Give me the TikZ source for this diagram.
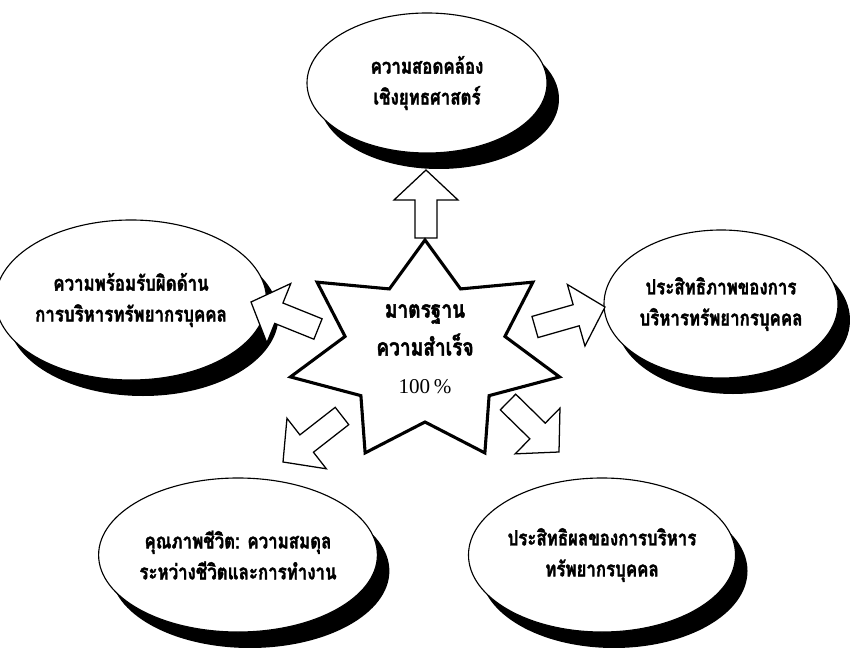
\documentclass[tikz,border=0pt]{standalone}
\usepackage{fontspec}
\setmainfont{Liberation Serif}
\newfontfamily\thaifont[Script=Thai, FakeStretch=0.8, FakeBold=1.6]{Loma}
\usetikzlibrary{calc,shapes.geometric,shadows}

% one pixel of the layout grid = 0.25mm
\tikzset{
  x=0.25mm, y=-0.25mm,
  oval/.style={ellipse, draw=black, fill=white, line width=0.8pt, inner sep=0pt,
    align=center, font=\thaifont\bfseries\fontsize{15}{22}\selectfont,
    drop shadow={shadow xshift=3mm, shadow yshift=-4mm, fill=black, opacity=1}},
  blockarrow/.style={draw=black, fill=white, line width=0.9pt, line join=miter},
  starline/.style={draw=black, fill=white, line width=2.2pt, line join=miter, miter limit=20},
  startext/.style={align=center, inner sep=0pt,
    font=\thaifont\bfseries\fontsize{17}{27}\selectfont},
}

% block arrow from #2 (tail) to #3 (tip), coordinates named after #1
\newcommand{\blockarrowdraw}[3]{%
  \coordinate (#1-tail) at #2;
  \coordinate (#1-tip) at #3;
  \coordinate (#1-neck) at ($(#1-tip)!7.5mm!(#1-tail)$);
  \draw[blockarrow]
    ($(#1-tail)!2.75mm!90:(#1-tip)$) --
    ($(#1-neck)!2.75mm!90:(#1-tip)$) --
    ($(#1-neck)!8mm!90:(#1-tip)$) --
    (#1-tip) --
    ($(#1-neck)!8mm!-90:(#1-tip)$) --
    ($(#1-neck)!2.75mm!-90:(#1-tip)$) --
    ($(#1-tail)!2.75mm!-90:(#1-tip)$) -- cycle;
}

\begin{document}
\begin{tikzpicture}
\useasboundingbox (0,0) rectangle (850,648);
\fill[white] (0,0) rectangle (850,648);

% outcome ovals
\node[oval, minimum width=60mm, minimum height=35mm] (align) at (427,83)
  {ความสอดคล้อง\\เชิงยุทธศาสตร์};
\node[oval, minimum width=60.5mm, minimum height=40mm] (account) at (131,300)
  {ความพร้อมรับผิดด้าน\\การบริหารทรัพยากรบุคคล};
\node[oval, minimum width=58.5mm, minimum height=37mm] (efficiency) at (721,304)
  {ประสิทธิภาพของการ\\บริหารทรัพยากรบุคคล};
\node[oval, minimum width=60mm, minimum height=38.5mm] (quality) at (238,555)
  {คุณภาพชีวิต: ความสมดุล\\ระหว่างชีวิตและการทำงาน};
\node[oval, minimum width=60mm, minimum height=38.5mm] (effect) at (602,555)
  {ประสิทธิผลของการบริหาร\\ทรัพยากรบุคคล};

% arrows pointing out from the star
\blockarrowdraw{up}{(426,238)}{(426,170)}
\blockarrowdraw{left}{(318,329)}{(251,302)}
\blockarrowdraw{right}{(535,327)}{(605,307)}
\blockarrowdraw{downleft}{(342,416)}{(283,462)}
\blockarrowdraw{downright}{(508,402)}{(559,452)}

% seven-pointed star
\coordinate (starcenter) at (425,352);
\draw[starline] ({425+138*cos(90)},{352-112*sin(90)})
  \foreach \i in {1,...,13}{
    -- ({425+(isodd(\i)?82:138)*cos(90+\i*360/14)},{352-(isodd(\i)?70:112)*sin(90+\i*360/14)})
  } -- cycle;
\node[startext] (goal) at (425,349)
  {มาตรฐาน\\ความสำเร็จ\\{\rmfamily\mdseries\fontsize{15}{18}\selectfont 100\,\%}};
\end{tikzpicture}
\end{document}
